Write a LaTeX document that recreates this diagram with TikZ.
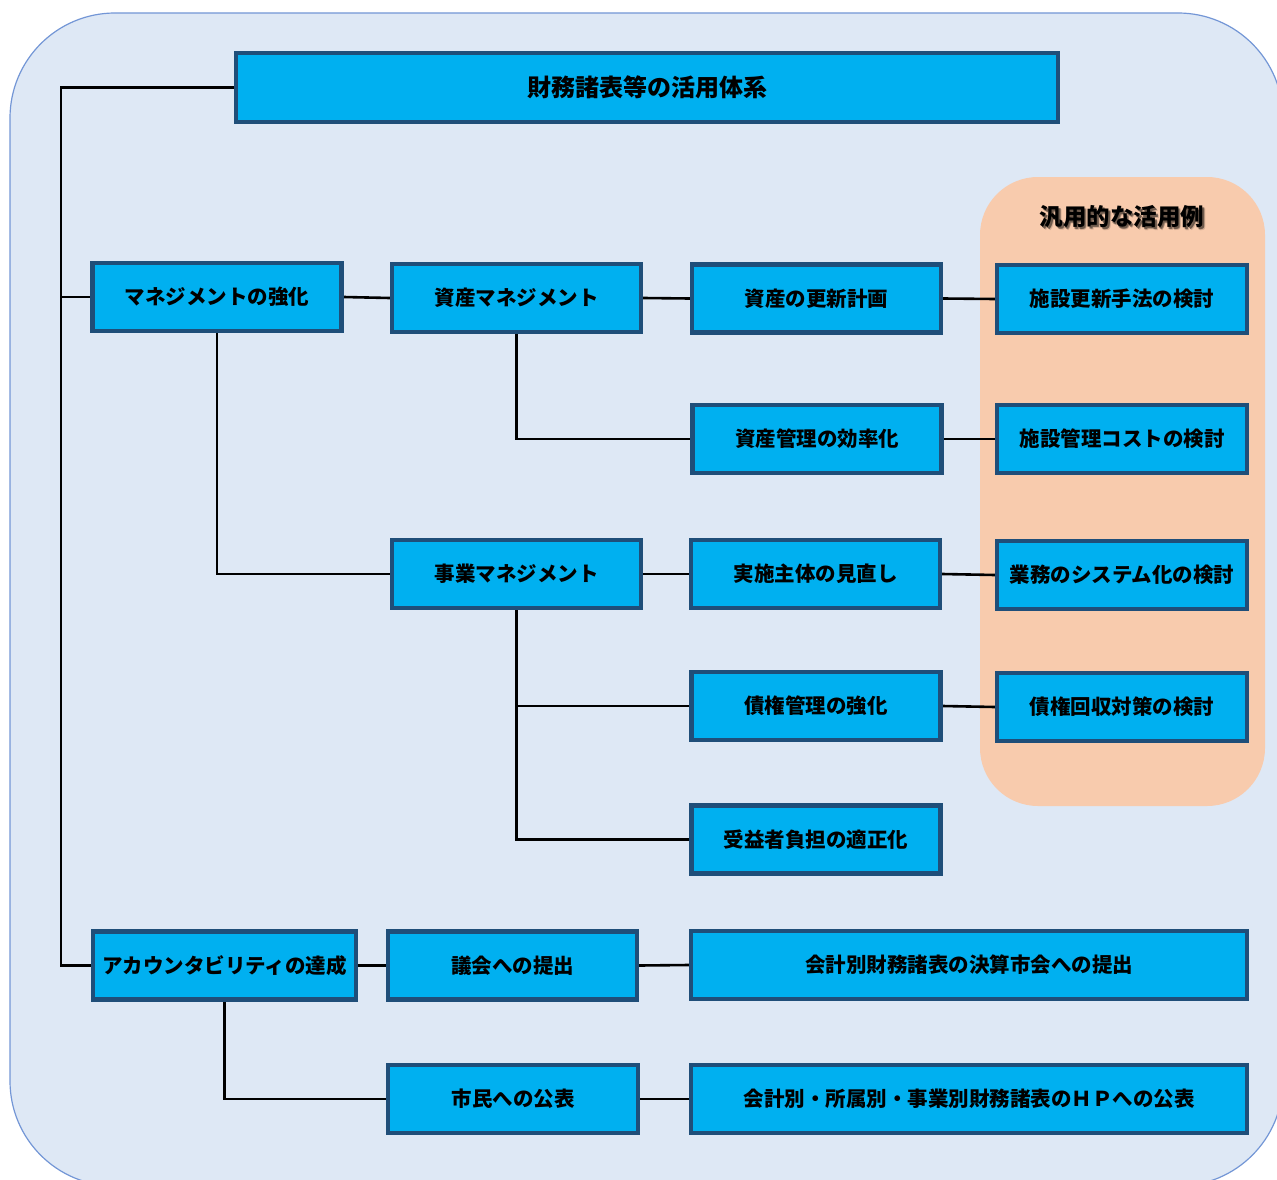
\documentclass[tikz,border=0pt]{standalone}
\usepackage{fontspec}
\newfontfamily\jp{Noto Sans CJK JP}
\pgfdeclarelayer{bg}
\pgfdeclarelayer{links}
\pgfsetlayers{bg,links,main}
\definecolor{panelfill}{HTML}{DEE8F5}
\definecolor{paneledge}{HTML}{7396D6}
\definecolor{boxfill}{HTML}{00B0F0}
\definecolor{boxedge}{HTML}{1F4E79}
\definecolor{examplefill}{HTML}{F8CBAD}
\tikzset{
  item/.style={draw=boxedge, line width=4.4pt, fill=boxfill, minimum height=68pt,
    minimum width=249pt, inner sep=0pt, font=\jp\bfseries\fontsize{20.5}{23}\selectfont, text=black},
  wideitem/.style={item, minimum width=556pt},
  link/.style={draw=black, line width=2.6pt, line cap=rect},
  headfont/.style={font=\jp\bfseries\fontsize{23.5}{27}\selectfont},
}
\begin{document}
\begin{tikzpicture}[x=1pt, y=-1pt]
\useasboundingbox (0,0) rectangle (1277,1180);

% outer panel (runs past the page edge at right and bottom)
\begin{pgfonlayer}{bg}
  \begin{scope}
    \clip (0,0) rectangle (1277,1180);
    \draw[paneledge, fill=panelfill, line width=1.2pt, rounded corners=105pt]
      (10,13) rectangle (1283,1186);
  \end{scope}
  % examples panel
  \fill[examplefill, rounded corners=58pt] (980,177) rectangle (1265,806);
\end{pgfonlayer}

% examples heading with soft shadow
\foreach \dx/\dy/\op in {2/2/0.25, 1.5/1.5/0.3, 2.5/2.5/0.15}
  \node[headfont, text=black, text opacity=\op]
    at (1122+\dx,217+\dy) {汎用的な活用例};
\node (exhead) [headfont, text=black] at (1122,217) {汎用的な活用例};

% boxes
\node (title) [item, minimum width=822pt, minimum height=69pt,
  font=\jp\bfseries\fontsize{24}{27}\selectfont] at (647,87.5) {財務諸表等の活用体系};

\node (mgmt)    [item] at (217,297)     {マネジメントの強化};
\node (asset)   [item] at (516.5,298)   {資産マネジメント};
\node (renew)   [item] at (816.5,298.5) {資産の更新計画};
\node (ex1)     [item, minimum width=250pt] at (1122,299) {施設更新手法の検討};
\node (eff)     [item] at (817,439)     {資産管理の効率化};
\node (ex2)     [item, minimum width=250pt] at (1122,439) {施設管理コストの検討};
\node (biz)     [item] at (516.5,574)   {事業マネジメント};
\node (impl)    [item] at (815.5,574)   {実施主体の見直し};
\node (ex3)     [item, minimum width=250pt] at (1122,575) {業務のシステム化の検討};
\node (debt)    [item] at (816,706)     {債権管理の強化};
\node (ex4)     [item, minimum width=250pt] at (1122,707) {債権回収対策の検討};
\node (benef)   [item] at (816,839.5)   {受益者負担の適正化};
\node (acct)    [item, minimum width=263pt] at (224.5,965.5) {アカウンタビリティの達成};
\node (council) [item] at (512.5,965.5) {議会への提出};
\node (settle)  [wideitem] at (969,965) {会計別財務諸表の決算市会への提出};
\node (public)  [item, minimum width=250pt] at (513,1099) {市民への公表};
\node (hp)      [wideitem] at (969,1099) {会計別・所属別・事業別財務諸表のＨＰへの公表};

% connectors
\coordinate (trunktop) at (61,87.5);
\coordinate (trunkbot) at (61,965.5);
\begin{pgfonlayer}{links}
  \draw[link] (title.west) -- (trunktop) -- (trunkbot) -- (acct.west);
  \draw[link] (mgmt.west) -- (mgmt.west -| trunktop);
  \draw[link] (mgmt.east) -- (asset.west);
  \draw[link] (mgmt.south) |- (biz.west);
  \draw[link] (asset.east) -- (renew.west);
  \draw[link] (asset.south) |- (eff.west);
  \draw[link] (renew.east) -- (ex1.west);
  \draw[link] (eff.east) -- (ex2.west);
  \draw[link] (biz.east) -- (impl.west);
  \draw[link] (biz.south) |- (benef.west);
  \draw[link] (biz.south |- debt.west) -- (debt.west);
  \draw[link] (impl.east) -- (ex3.west);
  \draw[link] (debt.east) -- (ex4.west);
  \draw[link] (acct.east) -- (council.west);
  \draw[link] (acct.south) |- (public.west);
  \draw[link] (council.east) -- (settle.west);
  \draw[link] (public.east) -- (hp.west);
\end{pgfonlayer}
\end{tikzpicture}
\end{document}
